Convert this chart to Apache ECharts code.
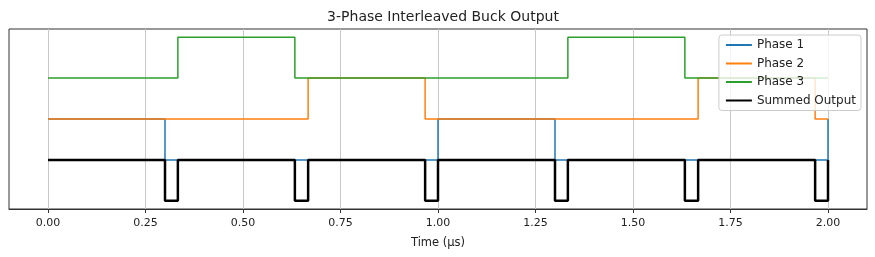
<!DOCTYPE html>
<html>
<head>
<meta charset="utf-8">
<script src="https://cdn.jsdelivr.net/npm/echarts@6/dist/echarts.min.js"></script>
<style>
html,body{margin:0;padding:0;background:#fff;}
#chart{width:875px;height:257px;}
</style>
</head>
<body>
<div id="chart"></div>
<script>
// Step waveforms: [time (µs), logic level]
const phase1 = [[0,1],[0.30,1],[0.30,0],[1.00,0],[1.00,1],[1.30,1],[1.30,0],[2.00,0],[2.00,1]];
const phase2 = [[0,0],[0.667,0],[0.667,1],[0.967,1],[0.967,0],[1.667,0],[1.667,1],[1.967,1],[1.967,0],[2.00,0]];
const phase3 = [[0,0],[0.333,0],[0.333,1],[0.633,1],[0.633,0],[1.333,0],[1.333,1],[1.633,1],[1.633,0],[2.00,0]];
const summed = [[0,0],[0.30,0],[0.30,-1],[0.333,-1],[0.333,0],[0.633,0],[0.633,-1],[0.667,-1],[0.667,0],[0.967,0],[0.967,-1],[1.00,-1],[1.00,0],[1.30,0],[1.30,-1],[1.333,-1],[1.333,0],[1.633,0],[1.633,-1],[1.667,-1],[1.667,0],[1.967,0],[1.967,-1],[2.00,-1],[2.00,0]];
const offsets = [0, 1, 2];
const seriesNames = ['Phase 1', 'Phase 2', 'Phase 3', 'Summed Output'];
const tickValues = [0, 0.25, 0.5, 0.75, 1.0, 1.25, 1.5, 1.75, 2.0];

const shift = (arr, k) => arr.map(p => [p[0], p[1] + k]);
const FONT = 'DejaVu Sans';

const chart = echarts.init(document.getElementById('chart'), null, {renderer: 'canvas'});
chart.setOption({
  animation: false,
  backgroundColor: '#fff',
  textStyle: {fontFamily: FONT},
  title: {
    text: '3-Phase Interleaved Buck Output',
    left: 438, textAlign: 'center', top: 5,
    textStyle: {fontFamily: FONT, fontSize: 14, fontWeight: 'normal', color: '#222'}
  },
  grid: {left: 9, right: 8, top: 29, bottom: 48, show: true, borderColor: '#333', borderWidth: 1, backgroundColor: 'transparent'},
  legend: {
    orient: 'vertical', right: 14, top: 35,
    data: seriesNames,
    itemWidth: 26, itemHeight: 12, itemGap: 6.5,
    itemStyle: {opacity: 0},
    backgroundColor: 'rgba(255,255,255,0.8)', borderColor: '#ccc', borderWidth: 1, borderRadius: 3,
    padding: [4, 5, 4, 6],
    textStyle: {fontFamily: FONT, fontSize: 12, color: '#222'}
  },
  xAxis: {
    type: 'value', min: -0.1, max: 2.1,
    name: 'Time (µs)', nameLocation: 'middle', nameGap: 28,
    nameTextStyle: {fontFamily: FONT, fontSize: 11.5, color: '#222'},
    axisLine: {show: true, onZero: false, lineStyle: {color: '#333'}},
    axisTick: {show: true, customValues: tickValues, length: 4, lineStyle: {color: '#333'}},
    axisLabel: {customValues: tickValues, formatter: v => v.toFixed(2), fontFamily: FONT, fontSize: 11, color: '#222', margin: 9},
    splitLine: {show: true, lineStyle: {color: '#c8c8c8', width: 1}}
  },
  yAxis: {
    type: 'value', min: -1.2, max: 3.2,
    axisLine: {show: false}, axisTick: {show: false}, axisLabel: {show: false}, splitLine: {show: false}
  },
  series: [
    {name: seriesNames[0], type: 'line', data: shift(phase1, offsets[0]), symbol: 'none', lineStyle: {color: '#1f77b4', width: 1.5}, itemStyle: {color: '#1f77b4'}},
    {name: seriesNames[1], type: 'line', data: shift(phase2, offsets[1]), symbol: 'none', lineStyle: {color: '#ff7f0e', width: 1.5}, itemStyle: {color: '#ff7f0e'}},
    {name: seriesNames[2], type: 'line', data: shift(phase3, offsets[2]), symbol: 'none', lineStyle: {color: '#2ca02c', width: 1.5}, itemStyle: {color: '#2ca02c'}},
    {name: seriesNames[3], type: 'line', data: summed, symbol: 'none', lineStyle: {color: '#000', width: 2.5}, itemStyle: {color: '#000'}}
  ]
});
</script>
</body>
</html>
